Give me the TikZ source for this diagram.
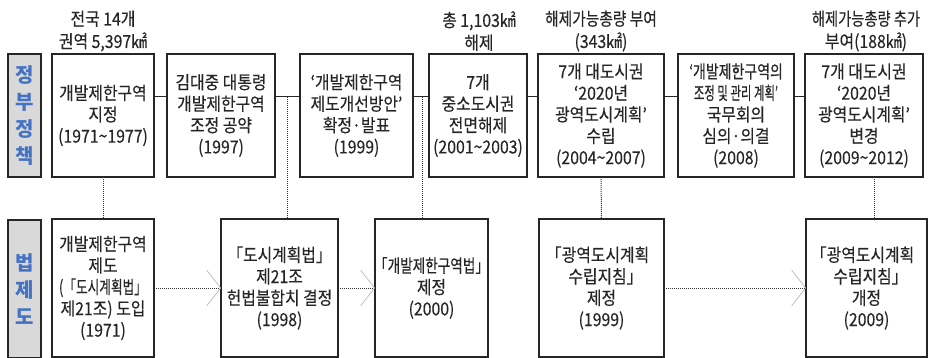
\documentclass[tikz,border=0pt]{standalone}
\usepackage{fontspec}
\usepackage{graphicx}
\usetikzlibrary{arrows.meta}
\newfontfamily\kr[FakeStretch=0.88,FakeBold=0.3]{Noto Sans CJK KR}
\newfontfamily\krh[FakeStretch=0.88,FakeBold=0.3,RawFeature=+halt]{Noto Sans CJK KR}
\newfontfamily\krlbl{Noto Sans CJK KR}
\definecolor{lblblue}{RGB}{68,114,196}
\definecolor{lblgray}{RGB}{217,217,217}
\newcommand\tld{\textasciitilde}
\newcommand\lbk{{\krh 「}}
\newcommand\rbk{{\krh 」}}
\newcommand\sx[2]{\scalebox{#1}[1]{#2}}
\begin{document}
\begin{tikzpicture}[x=1pt,y=-1pt,
  box/.style={draw=black!85, line width=1.1pt, inner sep=0pt, outer sep=0pt, align=center,
    font=\kr\fontsize{18}{21.5}\selectfont, text=black!85},
  topbox/.style={box, minimum height=123pt},
  botbox/.style={box, minimum height=138pt},
  lbl/.style={draw=black!85, line width=1.1pt, fill=lblgray, inner sep=0pt, outer sep=0pt,
    minimum width=33pt, align=center, font=\krlbl\bfseries\fontsize{20}{27}\selectfont, text=lblblue},
  note/.style={align=center, font=\kr\fontsize{18}{22.5}\selectfont, inner sep=0pt, text=black!85},
  link/.style={line width=1pt, black!85},
  dots/.style={line width=1pt, dash pattern=on 1pt off 1pt, black!80},
  darr/.style={dots, -{Straight Barb[length=14pt,width=36pt,line width=0.6pt,color=gray!60]}}
]
\useasboundingbox (0,0) rectangle (929,358);

% side labels
\node[lbl, minimum height=123pt] (l1) at (24.5,115.5) {정\\부\\정\\책};
\node[lbl, minimum height=138pt] (l2) at (24.5,289) {법\\제\\도};

% top row
\node[topbox, minimum width=102pt] (t1) at (103,115.5) {개발제한구역\\지정\\(1971\tld{}1977)};
\node[topbox, minimum width=108pt] (t2) at (221,115.5) {김대중 대통령\\개발제한구역\\조정 공약\\(1997)};
\node[topbox, minimum width=113pt] (t3) at (356.5,115.5) {‘개발제한구역\\제도개선방안’\\확정·발표\\(1999)};
\node[topbox, minimum width=98pt] (t4) at (478,115.5) {7개\\중소도시권\\전면해제\\(2001\tld{}2003)};
\node[topbox, minimum width=126pt] (t5) at (601,115.5) {7개 대도시권\\‘2020년\\광역도시계획’\\수립\\(2004\tld{}2007)};
\node[topbox, minimum width=116pt] (t6) at (736,115.5) {\sx{0.88}{‘개발제한구역의}\\\sx{0.72}{조정 및 관리 계획’}\\국무회의\\심의·의결\\(2008)};
\node[topbox, minimum width=118pt] (t7) at (864,115.5) {7개 대도시권\\‘2020년\\광역도시계획’\\변경\\(2009\tld{}2012)};

% notes above
\node[note] (n1) at (103,31) {전국 14개\\권역 5,397㎢};
\node[note] (n4) at (479,31) {총 1,103㎢\\해제};
\node[note] (n5) at (601,31) {\sx{0.93}{해제가능총량 부여}\\(343㎢)};
\node[note] (n7) at (866,31) {\sx{0.9}{해제가능총량 추가}\\부여(188㎢)};

% bottom row
\node[botbox, minimum width=102pt] (b1) at (103,288) {개발제한구역\\제도\\\sx{0.8}{(「도시계획법」}\\제21조) 도입\\(1971)};
\node[botbox, minimum width=117pt] (b2) at (279.5,288) {\lbk{}도시계획법\rbk{}\\제21조\\헌법불합치 결정\\(1998)};
\node[botbox, minimum width=113pt] (b3) at (431.5,288) {\sx{0.86}{\lbk{}개발제한구역법\rbk{}}\\제정\\(2000)};
\node[botbox, minimum width=125pt] (b4) at (601.5,288) {\lbk{}광역도시계획\\수립지침\rbk{}\\제정\\(1999)};
\node[botbox, minimum width=121pt] (b5) at (866.5,288) {\lbk{}광역도시계획\\수립지침\rbk{}\\개정\\(2009)};

% solid links in top row
\coordinate (ly) at (0,97);
\draw[link] (t1.east |- ly) -- (t2.west |- ly);
\draw[link] (t2.east |- ly) -- (t3.west |- ly);
\draw[link] (t3.east |- ly) -- (t4.west |- ly);
\draw[link] (t4.east |- ly) -- (t5.west |- ly);
\draw[link] (t5.east |- ly) -- (t6.west |- ly);
\draw[link] (t6.east |- ly) -- (t7.west |- ly);

% dotted verticals
\coordinate (j23) at (287,97);
\coordinate (j34) at (422,97);
\draw[dots] (t1.south) -- (b1.north);
\draw[dots] (j23) -- (j23 |- b2.north);
\draw[dots] (j34) -- (j34 |- b3.north);
\draw[dots] (t5.south) -- (b4.north);
\draw[dots] ([xshift=10pt]t7.south) -- ([xshift=10pt]t7.south |- b5.north);

% dotted arrows in bottom row
\draw[darr] (b1.east) -- (b2.west);
\draw[darr] (b2.east) -- (b3.west);
\draw[darr] (b4.east) -- (b5.west);
\end{tikzpicture}
\end{document}
